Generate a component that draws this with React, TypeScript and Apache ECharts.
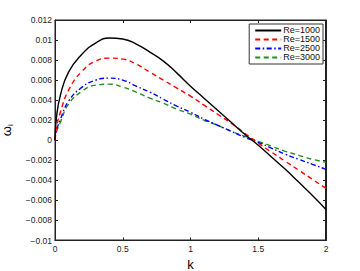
import React, { useEffect, useRef } from "react";
import * as echarts from "echarts";

const K = [0, 0.01, 0.04, 0.1, 0.2, 0.3, 0.4, 0.5, 0.6, 0.7, 0.8, 0.9, 1.0, 1.1, 1.2, 1.3, 1.4, 1.5, 1.6, 1.7, 1.8, 1.9, 2.0];
const re1000 = [0, 0.0022, 0.0045, 0.0068, 0.0086, 0.0097, 0.0102, 0.0101, 0.0096, 0.0088, 0.0079, 0.0067, 0.0054, 0.0042, 0.003, 0.0018, 0.0006, -0.0005, -0.0017, -0.0029, -0.0042, -0.0055, -0.0069];
const re1500 = [0, 0.0012, 0.0028, 0.005, 0.0069, 0.0079, 0.0082, 0.0081, 0.0076, 0.0068, 0.006, 0.0052, 0.0044, 0.0035, 0.0026, 0.0017, 0.0007, -0.0003, -0.0012, -0.0021, -0.003, -0.0039, -0.0048];
const re2500 = [0, 0.0009, 0.0021, 0.0039, 0.0053, 0.006, 0.0062, 0.006, 0.0054, 0.0048, 0.0041, 0.0034, 0.0028, 0.0021, 0.0015, 0.0009, 0.0003, -0.0002, -0.0008, -0.0014, -0.0019, -0.0024, -0.0029];
const re3000 = [0, 0.0008, 0.0018, 0.0036, 0.0049, 0.0055, 0.0056, 0.0053, 0.0048, 0.0042, 0.0037, 0.0031, 0.0026, 0.002, 0.0015, 0.0009, 0.0004, -0.0001, -0.0006, -0.0011, -0.0015, -0.0019, -0.0022];
const seriesNames = ["Re=1000", "Re=1500", "Re=2500", "Re=3000"];
const xLabel = "k";
const X_MIN = 0;
const X_MAX = 2;
const Y_MIN = -0.01;
const Y_MAX = 0.012;

const FONT = "Liberation Sans";

const W = 360;
const H = 271;
const G_LEFT = 55;
const G_RIGHT = 34;
const G_TOP = 20;
const G_BOTTOM = 30.5;

export default function App() {
  const ref = useRef<HTMLDivElement>(null);
  useEffect(() => {
    const chart = echarts.init(ref.current!, null, { renderer: "svg" });
    const mk = (arr: number[]) => K.map((k, i) => [k, arr[i]]);
    const styles = [
      { color: "#000000", type: "solid" as any },
      { color: "#ff0000", type: [5, 3.5] as any },
      { color: "#0000ff", type: [5, 2.5, 1.5, 2.5] as any },
      { color: "#228b22", type: [5, 3.5] as any },
    ];
    const datas = [re1000, re1500, re2500, re3000];
    const mkAxisLine = () => ({ show: true, onZero: false, lineStyle: { color: "#222", width: 1 } });
    const mkTick = () => ({ show: true, inside: true, length: 3, lineStyle: { color: "#222" } });
    const fmtY = (v: number) => {
      const s = parseFloat(v.toFixed(4)).toString();
      return s.replace("-", "\u2212");
    };
    const lineSeries: any[] = datas.map((d, i) => ({
      name: seriesNames[i],
      type: "line",
      smooth: true,
      symbol: "none",
      data: mk(d),
      lineStyle: { color: styles[i].color, width: 1.4, type: styles[i].type },
      itemStyle: { color: styles[i].color },
      z: 10 - i,
    }));
    chart.setOption({
      animation: false,
      backgroundColor: "#fff",
      grid: {
        left: G_LEFT,
        right: G_RIGHT,
        top: G_TOP,
        bottom: G_BOTTOM,
        containLabel: false,
        outerBoundsMode: "none",
        show: true,
        borderColor: "#222",
        borderWidth: 1,
        backgroundColor: "transparent",
      },
      graphic: [
        {
          type: "rect",
          silent: true,
          z: 1,
          shape: { x: G_LEFT + 0.5, y: G_TOP + 0.5, width: W - G_LEFT - G_RIGHT - 1, height: H - G_TOP - G_BOTTOM - 1 },
          style: { fill: "none", stroke: "#222", lineWidth: 1 },
        },
      ],
      legend: {
        orient: "vertical",
        right: 37,
        top: 24,
        backgroundColor: "#fff",
        borderColor: "#333",
        borderWidth: 1,
        borderRadius: 0,
        padding: [2, 3, 2, 5],
        itemGap: 0,
        itemWidth: 26,
        itemHeight: 10.3,
        itemStyle: { opacity: 0 },
        textStyle: { fontFamily: FONT, fontSize: 9, color: "#111", padding: [0, 0, 0, -3] },
        data: seriesNames,
      },
      xAxis: [
        {
          type: "value",
          min: X_MIN,
          max: X_MAX,
          interval: 0.5,
          name: xLabel,
          nameLocation: "middle",
          nameGap: 17,
          nameTextStyle: { fontFamily: FONT, fontSize: 13, color: "#000" },
          axisLine: mkAxisLine(),
          axisTick: mkTick(),
          splitLine: { show: false },
          axisLabel: { fontFamily: FONT, fontSize: 8.5, color: "#222", margin: 4 },
        },
        {
          type: "value",
          position: "top",
          min: X_MIN,
          max: X_MAX,
          interval: 0.5,
          axisLine: mkAxisLine(),
          axisTick: mkTick(),
          splitLine: { show: false },
          axisLabel: { show: false },
        },
      ],
      yAxis: [
        {
          type: "value",
          min: Y_MIN,
          max: Y_MAX,
          interval: 0.002,
          name: "{w|ω}{s|i}",
          nameLocation: "middle",
          nameRotate: 90,
          nameGap: 40,
          nameTextStyle: {
            fontFamily: FONT,
            color: "#000",
            rich: {
              w: { fontFamily: FONT, fontSize: 13, color: "#000" },
              s: { fontFamily: FONT, fontSize: 8, color: "#000", verticalAlign: "bottom", padding: [8, 0, 0, 0] },
            },
          },
          axisLine: mkAxisLine(),
          axisTick: mkTick(),
          splitLine: { show: false },
          axisLabel: { fontFamily: FONT, fontSize: 8.5, color: "#222", margin: 3, formatter: fmtY },
        },
        {
          type: "value",
          position: "right",
          min: Y_MIN,
          max: Y_MAX,
          interval: 0.002,
          axisLine: mkAxisLine(),
          axisTick: mkTick(),
          splitLine: { show: false },
          axisLabel: { show: false },
        },
      ],
      series: lineSeries,
    });
    return () => chart.dispose();
  }, []);
  return <div ref={ref} style={{ width: W, height: H, position: "absolute", left: 0, top: 0 }} />;
}
